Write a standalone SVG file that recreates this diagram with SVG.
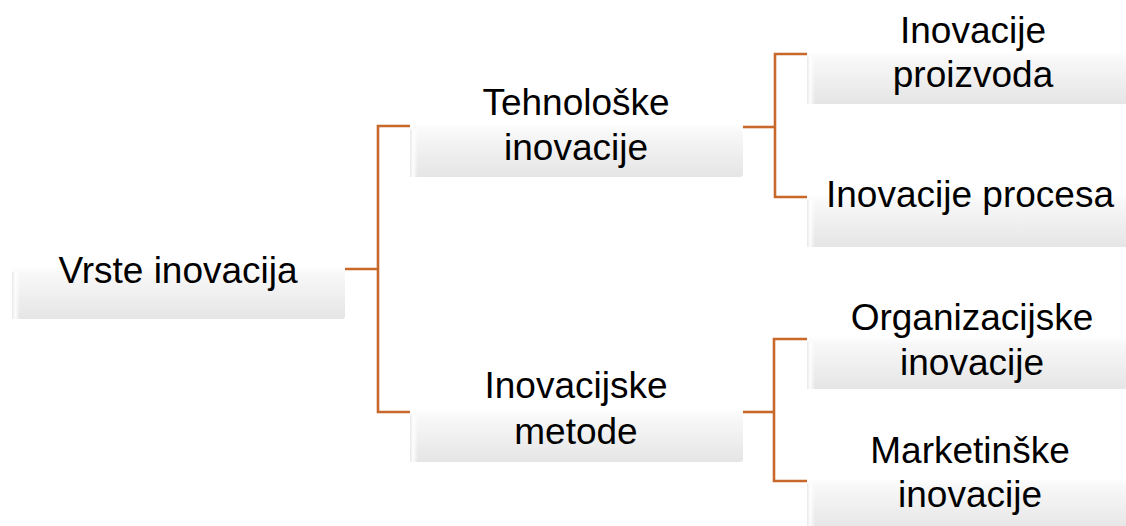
<svg xmlns="http://www.w3.org/2000/svg" width="1126" height="526" viewBox="0 0 1126 526">
  <defs>
    <linearGradient id="boxFill" x1="0" y1="0" x2="0" y2="1">
      <stop offset="0" stop-color="#ffffff"/>
      <stop offset="0.47" stop-color="#ffffff"/>
      <stop offset="0.55" stop-color="#f8f8f8"/>
      <stop offset="1" stop-color="#e5e5e5"/>
    </linearGradient>
    <linearGradient id="bevelL" x1="0" y1="0" x2="1" y2="0">
      <stop offset="0" stop-color="#e8e8e8" stop-opacity="1"/>
      <stop offset="0.4" stop-color="#ffffff" stop-opacity="0.9"/>
      <stop offset="1" stop-color="#ffffff" stop-opacity="0"/>
    </linearGradient>
  </defs>
  <style>
    .box { fill: url(#boxFill); }
    .bev { fill: url(#bevelL); }
    .lbl { font-family: "Liberation Sans", Arial, sans-serif; font-size: 37px; fill: #000000; text-anchor: middle; }
    .conn { fill: none; stroke: #c8682a; stroke-width: 2.6; }
  </style>
  <rect width="1126" height="526" fill="#ffffff"/>

  <g id="connectors">
    <path class="conn" d="M345 269 H378"/>
    <path class="conn" d="M410 126 H378 V412 H410"/>
    <path class="conn" d="M743 127 H775"/>
    <path class="conn" d="M807 54 H775 V197 H807"/>
    <path class="conn" d="M743 412 H774"/>
    <path class="conn" d="M807 339 H774 V481 H807"/>
  </g>

  <g id="node-root">
    <rect class="box" x="12" y="219" width="333" height="100" rx="3"/>
    <rect class="bev" x="12" y="272" width="8" height="47"/>
    <text class="lbl" x="178" y="283">Vrste inovacija</text>
  </g>

  <g id="node-tehnoloske">
    <rect class="box" x="410" y="77" width="333" height="100" rx="3"/>
    <rect class="bev" x="410" y="130" width="8" height="47"/>
    <text class="lbl" x="576" y="115">Tehnološke</text>
    <text class="lbl" x="576" y="160">inovacije</text>
  </g>

  <g id="node-inovacijske">
    <rect class="box" x="410" y="362" width="333" height="100" rx="3"/>
    <rect class="bev" x="410" y="415" width="8" height="47"/>
    <text class="lbl" x="576" y="398">Inovacijske</text>
    <text class="lbl" x="576" y="444">metode</text>
  </g>

  <g id="node-proizvoda">
    <rect class="box" x="807" y="4" width="333" height="100" rx="3"/>
    <rect class="bev" x="807" y="57" width="8" height="47"/>
    <text class="lbl" x="973" y="43">Inovacije</text>
    <text class="lbl" x="973" y="87">proizvoda</text>
  </g>

  <g id="node-procesa">
    <rect class="box" x="807" y="147" width="333" height="100" rx="3"/>
    <rect class="bev" x="807" y="200" width="8" height="47"/>
    <text class="lbl" x="970" y="207">Inovacije procesa</text>
  </g>

  <g id="node-organizacijske">
    <rect class="box" x="807" y="289" width="333" height="100" rx="3"/>
    <rect class="bev" x="807" y="342" width="8" height="47"/>
    <text class="lbl" x="972" y="330">Organizacijske</text>
    <text class="lbl" x="972" y="375">inovacije</text>
  </g>

  <g id="node-marketinske">
    <rect class="box" x="807" y="431" width="333" height="100" rx="3"/>
    <rect class="bev" x="807" y="484" width="8" height="47"/>
    <text class="lbl" x="970" y="463">Marketinške</text>
    <text class="lbl" x="970" y="507">inovacije</text>
  </g>
</svg>
